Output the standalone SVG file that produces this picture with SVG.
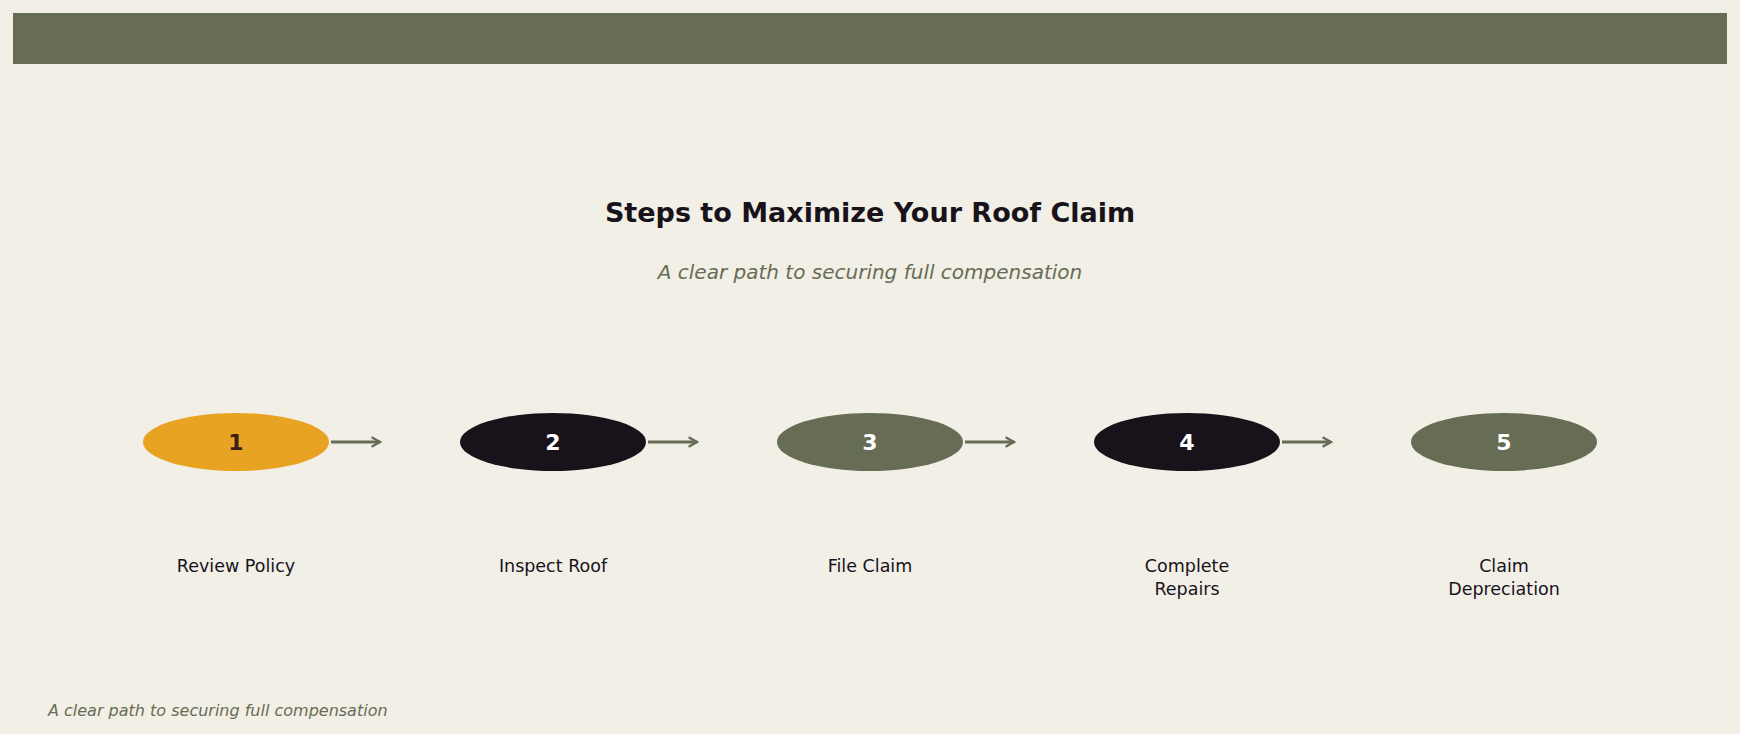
<svg xmlns="http://www.w3.org/2000/svg" width="1740" height="734" viewBox="0 0 1740 734">
<style>
text{font-family:"DejaVu Sans","Noto Sans",sans-serif;text-anchor:middle}
.num{font-size:22px;font-weight:bold;fill:#fff}
.lbl{font-size:17.5px;fill:#18131b}
.con{stroke:#676c55;stroke-width:3;fill:none}
</style>
<defs><marker id="ah" viewBox="0 0 10 10" refX="8" refY="5" markerWidth="4" markerHeight="4" orient="auto"><path d="M1,1 L8,5 L1,9" fill="none" stroke="#676c55" stroke-width="2"/></marker></defs>
<rect width="1740" height="734" fill="#f1efe6"/>
<rect x="13" y="13" width="1714" height="51" fill="#676c55"/>
<text x="870" y="222" font-size="27" font-weight="bold" fill="#18131b">Steps to Maximize Your Roof Claim</text>
<text x="870" y="279" font-size="20" font-style="italic" fill="#676c55">A clear path to securing full compensation</text>
<g id="connectors">
<path class="con" d="M331 442 H380" marker-end="url(#ah)"/>
<path class="con" d="M648 442 H697" marker-end="url(#ah)"/>
<path class="con" d="M965 442 H1014" marker-end="url(#ah)"/>
<path class="con" d="M1282 442 H1331" marker-end="url(#ah)"/>
</g>
<g id="n1"><ellipse cx="236" cy="442" rx="93" ry="29" fill="#e8a323"/><text class="num" x="236" y="450" style="fill:#3a1f1a">1</text><text class="lbl" x="236" y="572">Review Policy</text></g>
<g id="n2"><ellipse cx="553" cy="442" rx="93" ry="29" fill="#18131b"/><text class="num" x="553" y="450">2</text><text class="lbl" x="553" y="572">Inspect Roof</text></g>
<g id="n3"><ellipse cx="870" cy="442" rx="93" ry="29" fill="#676c55"/><text class="num" x="870" y="450">3</text><text class="lbl" x="870" y="572">File Claim</text></g>
<g id="n4"><ellipse cx="1187" cy="442" rx="93" ry="29" fill="#18131b"/><text class="num" x="1187" y="450">4</text><text class="lbl" x="1187" y="572">Complete</text><text class="lbl" x="1187" y="595">Repairs</text></g>
<g id="n5"><ellipse cx="1504" cy="442" rx="93" ry="29" fill="#676c55"/><text class="num" x="1504" y="450">5</text><text class="lbl" x="1504" y="572">Claim</text><text class="lbl" x="1504" y="595">Depreciation</text></g>
<text x="48" y="716" font-size="16" font-style="italic" fill="#676c55" style="text-anchor:start">A clear path to securing full compensation</text>
</svg>
